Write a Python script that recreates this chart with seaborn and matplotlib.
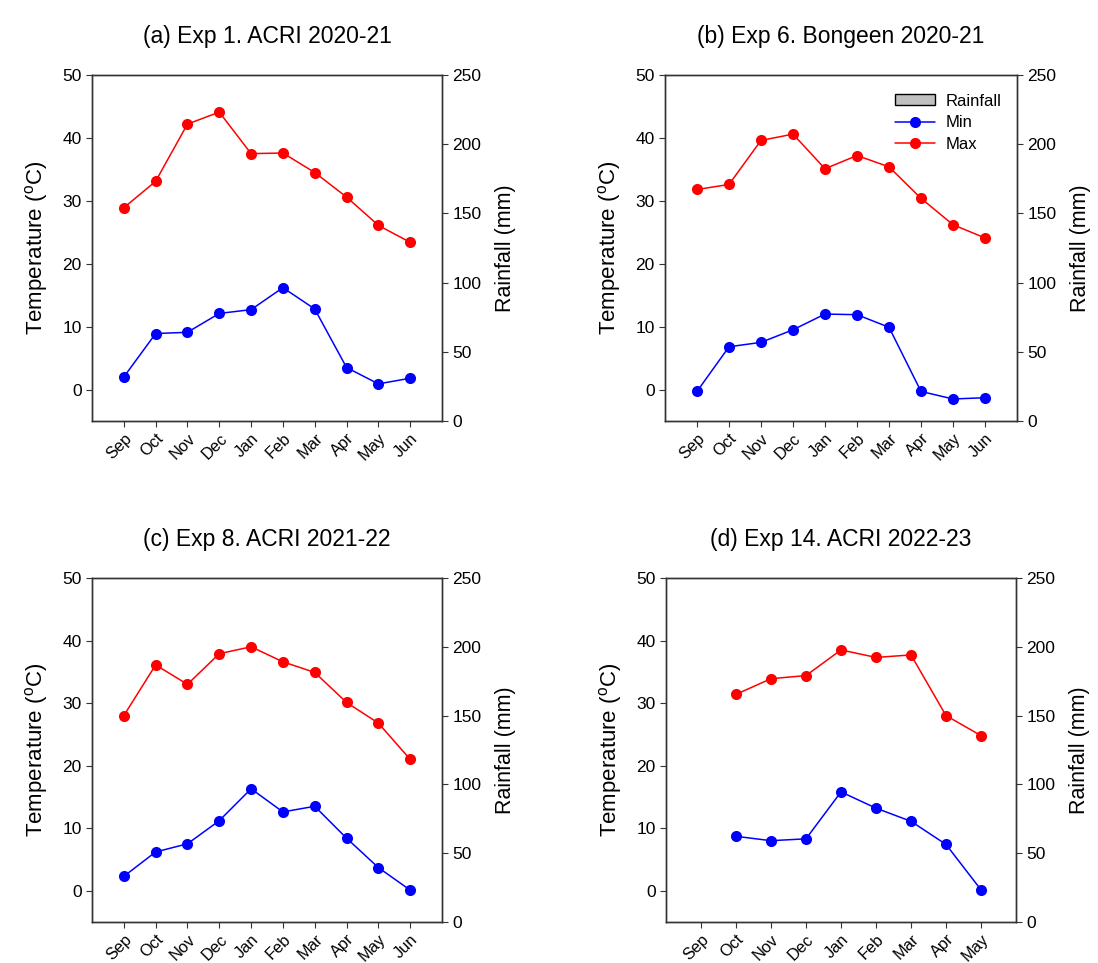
import numpy as np
import pandas as pd
import matplotlib
matplotlib.use("Agg")
import matplotlib.pyplot as plt
import seaborn as sns
from matplotlib.patches import Patch
from matplotlib.lines import Line2D

# ---- data ----
months_full = ["Sep", "Oct", "Nov", "Dec", "Jan", "Feb", "Mar", "Apr", "May", "Jun"]
months_d = ["Sep", "Oct", "Nov", "Dec", "Jan", "Feb", "Mar", "Apr", "May"]

titles = ["(a) Exp 1. ACRI 2020-21", "(b) Exp 6. Bongeen 2020-21",
          "(c) Exp 8. ACRI 2021-22", "(d) Exp 14. ACRI 2022-23"]

# panel a
a_months = months_full
a_max = [28.9, 33.1, 42.2, 44.1, 37.5, 37.6, 34.5, 30.6, 26.1, 23.4]
a_min = [2.0, 8.9, 9.1, 12.1, 12.7, 16.2, 12.8, 3.5, 0.9, 1.8]

# panel b
b_months = months_full
b_max = [31.8, 32.6, 39.6, 40.6, 35.1, 37.2, 35.4, 30.4, 26.2, 24.1]
b_min = [-0.3, 6.8, 7.5, 9.5, 12.0, 11.9, 9.9, -0.3, -1.5, -1.3]

# panel c
c_months = months_full
c_max = [28.0, 36.1, 33.0, 37.9, 39.0, 36.6, 34.9, 30.1, 26.8, 21.0]
c_min = [2.3, 6.2, 7.5, 11.2, 16.3, 12.6, 13.5, 8.4, 3.7, 0.1]

# panel d (no data in Sep)
d_months = months_d
d_data_months = ["Oct", "Nov", "Dec", "Jan", "Feb", "Mar", "Apr", "May"]
d_max = [31.4, 33.9, 34.4, 38.5, 37.3, 37.7, 28.0, 24.8]
d_min = [8.7, 8.0, 8.3, 15.8, 13.2, 11.1, 7.4, 0.15]

temp_ticks = [0, 10, 20, 30, 40, 50]
rain_ticks = [0, 50, 100, 150, 200, 250]

panels = [
    (a_months, a_months, a_max, a_min),
    (b_months, b_months, b_max, b_min),
    (c_months, c_months, c_max, c_min),
    (d_months, d_data_months, d_max, d_min),
]

# ---- style ----
sns.set_style("ticks")
plt.rcParams['font.family'] = ['Liberation Sans', 'DejaVu Sans']
plt.rcParams['axes.linewidth'] = 1.0
plt.rcParams['xtick.major.size'] = 4
plt.rcParams['ytick.major.size'] = 4
plt.rcParams['text.color'] = 'black'
plt.rcParams['axes.labelcolor'] = 'black'
plt.rcParams['xtick.labelcolor'] = 'black'
plt.rcParams['ytick.labelcolor'] = 'black'
plt.rcParams['xtick.color'] = '#333333'
plt.rcParams['ytick.color'] = '#333333'

fig = plt.figure(figsize=(10.98, 9.63), dpi=100)

W, H = 1098, 963
boxes = [(92, 75, 442, 421), (665, 75, 1017, 421),
         (92, 578, 442, 922), (666, 578, 1016, 922)]

for i, (box, (cats, dcats, vmax, vmin)) in enumerate(zip(boxes, panels)):
    l, t, r, b = box
    ax = fig.add_axes([l / W, 1 - b / H, (r - l) / W, (b - t) / H])
    pos = {m: k for k, m in enumerate(cats)}
    df = pd.DataFrame({"x": [pos[m] for m in dcats], "Max": vmax, "Min": vmin})
    sns.lineplot(data=df, x="x", y="Min", ax=ax, color="#0000ff", marker="o",
                 markersize=8, markeredgewidth=0, linewidth=1.1)
    sns.lineplot(data=df, x="x", y="Max", ax=ax, color="#ff0000", marker="o",
                 markersize=8, markeredgewidth=0, linewidth=1.1)
    ax.set_xlim(-1, len(cats))
    ax.set_ylim(-5, 50)
    ax.set_yticks(temp_ticks)
    ax.set_xticks(range(len(cats)))
    ax.set_xticklabels(cats, rotation=45, ha="right", rotation_mode="anchor",
                       fontsize=11.8)
    ax.tick_params(axis="x", pad=3)
    ax.tick_params(axis="y", labelsize=12.5)
    ax.set_xlabel("")
    ax.set_ylabel(r"Temperature ($\mathregular{^o}$C)", fontsize=16, labelpad=9)
    ax.set_title(titles[i], fontsize=16.5, pad=23)
    for s in ax.spines.values():
        s.set_color("#333333")

    ax2 = ax.twinx()
    ax2.set_ylim(0, 250)
    ax2.set_yticks(rain_ticks)
    ax2.tick_params(axis="y", labelsize=12.5)
    ax2.set_ylabel("Rainfall (mm)", fontsize=15.5, labelpad=10)
    for s in ax2.spines.values():
        s.set_color("#333333")

    if i == 1:
        handles = [Patch(facecolor="#c0c0c0", edgecolor="black", linewidth=1.0),
                   Line2D([], [], color="#0000ff", marker="o", markersize=8,
                          markeredgewidth=0, linewidth=1.1),
                   Line2D([], [], color="#ff0000", marker="o", markersize=8,
                          markeredgewidth=0, linewidth=1.1)]
        ax2.legend(handles, ["Rainfall", "Min", "Max"], loc="upper right",
                   bbox_to_anchor=(0.985, 0.975), frameon=False, fontsize=12,
                   handlelength=2.4, handleheight=0.6, handletextpad=0.65,
                   labelspacing=0.4, borderaxespad=0.2)

fig.savefig("out.png", dpi=100)
